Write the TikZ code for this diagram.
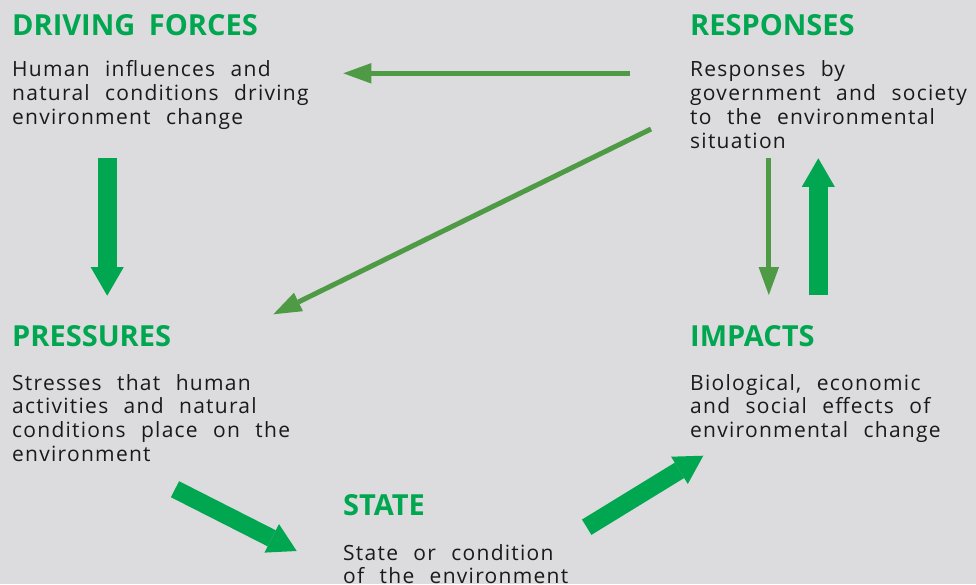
\documentclass[tikz,border=0pt]{standalone}
\usepackage{fontspec}
\setmainfont{Open Sans}[WordSpace=2.3, LetterSpace=6]
\newfontfamily\headfont{Open Sans}[WordSpace=1.8]
\usetikzlibrary{arrows.meta}
\definecolor{bg}{HTML}{DCDCDE}
\definecolor{bright}{HTML}{00A650}
\definecolor{dull}{HTML}{4F9A45}
\definecolor{ink}{HTML}{1A1A1A}
\tikzset{
  heading/.style={anchor=base west, inner sep=0pt, text=bright, font=\headfont\fontsize{29}{34}\selectfont\bfseries},
  body/.style={anchor=base west, inner sep=0pt, text=ink, align=left, font=\fontsize{21}{23.8}\selectfont},
  bigarrow/.style={draw=bright, line width=19pt, -{Triangle[length=28.5pt,width=33pt,line width=0pt]}},
  bigdiag/.style={draw=bright, line width=18pt, -{Triangle[length=28pt,width=32pt,line width=0pt]}},
  thinarrow/.style={draw=dull, line width=5pt, -{Triangle[length=28pt,width=20.5pt,line width=0pt]}},
}
\begin{document}
\begin{tikzpicture}[x=1pt,y=-1pt]
\fill[bg] (0,0) rectangle (976,584);
\useasboundingbox (0,0) rectangle (976,584);

% body nodes are anchored at the baseline of their last line
\node[heading] (dfh) at (12,35) {DRIVING FORCES};
\node[body] (dfb) at (12,124.4) {Human influences and\\natural conditions driving\\environment change};

\node[heading] (rsh) at (690,35) {RESPONSES};
\node[body] (rsb) at (690,148.2) {Responses by\\government and society\\to the environmental\\situation};

\node[heading] (prh) at (12,346) {PRESSURES};
\node[body] (prb) at (12,461.5) {Stresses that human\\activities and natural\\conditions place on the\\environment};

\node[heading] (imh) at (690,346) {IMPACTS};
\node[body] (imb) at (690,437.6) {Biological, economic\\and social effects of\\environmental change};

\node[heading] (sth) at (343,515) {STATE};
\node[body] (stb) at (343,583.8) {State or condition\\of the environment};

% arrow end points
\coordinate (a1s) at (107.2,158.3);
\coordinate (a1e) at (107.2,295.7);
\coordinate (a2s) at (629.5,73.3);
\coordinate (a2e) at (343.3,73.3);
\coordinate (a3s) at (651,129);
\coordinate (a3e) at (273.3,314.3);
\coordinate (a4s) at (768.8,158.3);
\coordinate (a4e) at (768.8,295);
\coordinate (a5s) at (818.3,295.3);
\coordinate (a5e) at (818.3,158.3);
\coordinate (a6s) at (175,489.2);
\coordinate (a6e) at (296.7,551);
\coordinate (a7s) at (586.7,527.2);
\coordinate (a7e) at (703.3,455.7);

\draw[bigarrow] (a1s) -- (a1e);
\draw[thinarrow] (a2s) -- (a2e);
\draw[thinarrow] (a3s) -- (a3e);
\draw[thinarrow] (a4s) -- (a4e);
\draw[bigarrow] (a5s) -- (a5e);
\draw[bigdiag] (a6s) -- (a6e);
\draw[bigdiag] (a7s) -- (a7e);
\end{tikzpicture}
\end{document}
